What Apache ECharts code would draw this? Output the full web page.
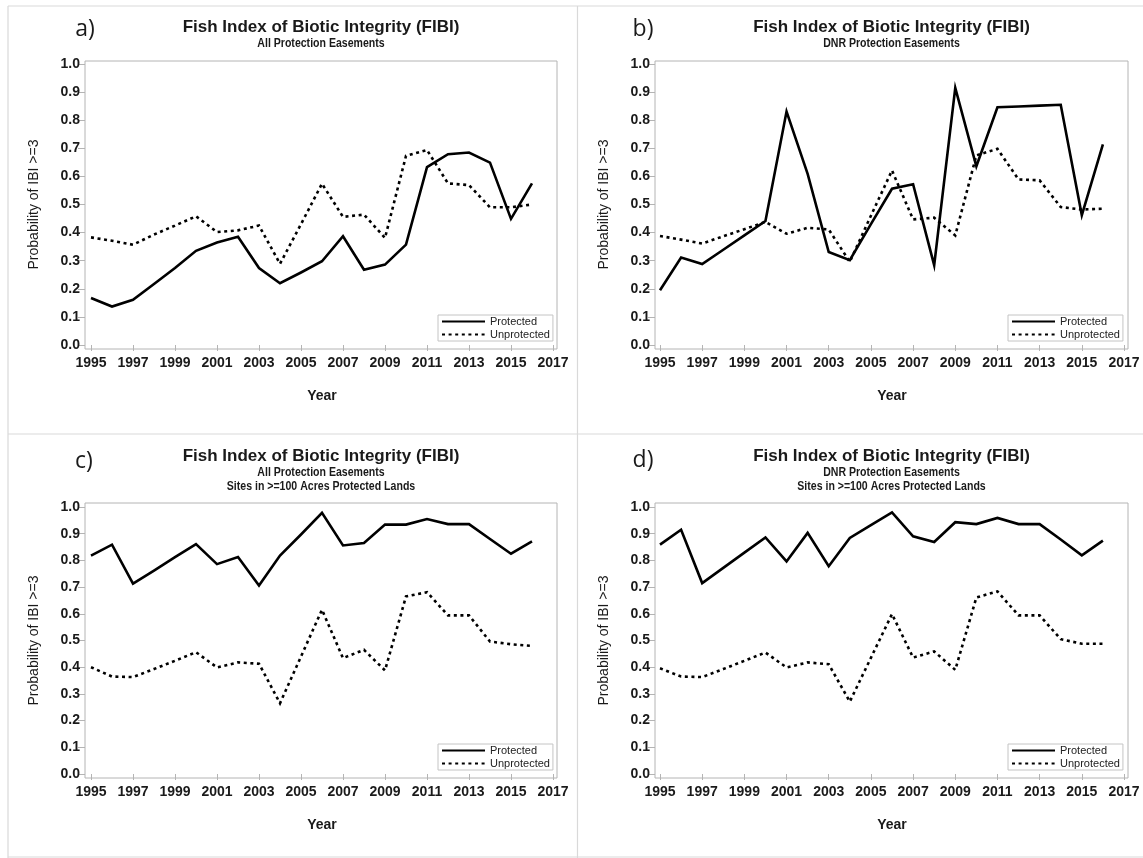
<!DOCTYPE html>
<html>
<head>
<meta charset="utf-8">
<title>Fish Index of Biotic Integrity (FIBI)</title>
<script src="https://cdn.jsdelivr.net/npm/echarts@6/dist/echarts.min.js"></script>
<style>
  html, body { margin: 0; padding: 0; background: #ffffff; }
  #chart { width: 1143px; height: 858px; }
</style>
</head>
<body>
<div id="chart"></div>
<script>
// Survey years
const years = [1995, 1996, 1997, 1998, 1999, 2000, 2001, 2002, 2003, 2004, 2005,
               2006, 2007, 2008, 2009, 2010, 2011, 2012, 2013, 2014, 2015, 2016];

// a) All protection easements
const allProtected   = [0.167, 0.137, 0.161, 0.217, 0.274, 0.335, 0.365, 0.385, 0.274, 0.220, 0.258,
                        0.298, 0.387, 0.268, 0.286, 0.357, 0.633, 0.679, 0.685, 0.649, 0.449, 0.575];
const allUnprotected = [0.383, 0.371, 0.357, 0.393, 0.425, 0.458, 0.402, 0.408, 0.425, 0.289, 0.430,
                        0.574, 0.456, 0.464, 0.381, 0.673, 0.694, 0.575, 0.569, 0.490, 0.490, 0.500];

// b) DNR protection easements
const dnrProtected   = [0.195, 0.311, 0.288, 0.339, 0.390, 0.441, 0.831, 0.609, 0.331, 0.302, 0.430,
                        0.556, 0.572, 0.284, 0.915, 0.636, 0.846, 0.849, 0.852, 0.855, 0.462, 0.714];
const dnrUnprotected = [0.388, 0.375, 0.361, 0.387, 0.412, 0.438, 0.396, 0.417, 0.411, 0.296, 0.460,
                        0.621, 0.447, 0.453, 0.390, 0.675, 0.698, 0.589, 0.586, 0.491, 0.482, 0.485];

// c) All protection easements, sites in >=100 acres protected lands
const all100Protected   = [0.818, 0.859, 0.713, 0.762, 0.812, 0.861, 0.786, 0.813, 0.706, 0.818, 0.897,
                           0.978, 0.856, 0.865, 0.934, 0.934, 0.955, 0.936, 0.936, 0.880, 0.825, 0.871];
const all100Unprotected = [0.400, 0.365, 0.363, 0.393, 0.424, 0.456, 0.399, 0.418, 0.413, 0.265, 0.440,
                           0.615, 0.434, 0.465, 0.388, 0.665, 0.681, 0.594, 0.594, 0.496, 0.486, 0.480];

// d) DNR protection easements, sites in >=100 acres protected lands
const dnr100Protected   = [0.859, 0.915, 0.715, 0.772, 0.829, 0.886, 0.796, 0.903, 0.778, 0.884, 0.932,
                           0.980, 0.890, 0.869, 0.943, 0.936, 0.959, 0.936, 0.936, 0.878, 0.819, 0.874];
const dnr100Unprotected = [0.396, 0.365, 0.363, 0.393, 0.424, 0.455, 0.399, 0.418, 0.411, 0.271, 0.435,
                           0.599, 0.436, 0.459, 0.390, 0.661, 0.684, 0.594, 0.594, 0.505, 0.488, 0.488];

// Axis settings
const yearMin = 1995, yearMax = 2017, yearStep = 2;
const probMin = 0, probMax = 1, probStep = 0.1;

const seriesNames = ['Protected', 'Unprotected'];
const mainTitle = 'Fish Index of Biotic Integrity (FIBI)';
const xAxisTitle = 'Year';
const yAxisTitle = 'Probability of IBI >=3';

const panelLabels = ['a)', 'b)', 'c)', 'd)'];
const panelSubtitles = [
  ['All Protection Easements'],
  ['DNR Protection Easements'],
  ['All Protection Easements', 'Sites in >=100 Acres Protected Lands'],
  ['DNR Protection Easements', 'Sites in >=100 Acres Protected Lands']
];
const panelSeries = [
  [allProtected, allUnprotected],
  [dnrProtected, dnrUnprotected],
  [all100Protected, all100Unprotected],
  [dnr100Protected, dnr100Unprotected]
];

// Page geometry for each panel (pixels)
const layout = [
  { dataLeft: 91,  dataW: 462, dataTop: 64,  dataH: 281, frameLeft: 85,  frameW: 472, frameTop: 61,  frameH: 288,
    titleY: 27, subY: [44], labelX: 85, labelY: 29, legendLeft: 438, legendTop: 315 },
  { dataLeft: 660, dataW: 464, dataTop: 64,  dataH: 281, frameLeft: 655, frameW: 473, frameTop: 61,  frameH: 288,
    titleY: 27, subY: [44], labelX: 643, labelY: 29, legendLeft: 1008, legendTop: 315 },
  { dataLeft: 91,  dataW: 462, dataTop: 507, dataH: 267, frameLeft: 85,  frameW: 472, frameTop: 503, frameH: 275,
    titleY: 456, subY: [473, 487], labelX: 84, labelY: 461, legendLeft: 438, legendTop: 744 },
  { dataLeft: 660, dataW: 464, dataTop: 507, dataH: 267, frameLeft: 655, frameW: 473, frameTop: 503, frameH: 275,
    titleY: 456, subY: [473, 487], labelX: 643, labelY: 460, legendLeft: 1008, legendTop: 744 }
];

const baseFont = "'Liberation Sans', Arial, Helvetica, sans-serif";
const ink = '#1a1a1a';
const frameGray = '#b4b4b4';
const dividerGray = '#d9d9d9';

const grids = [], xAxes = [], yAxes = [], series = [], legends = [], graphics = [];

layout.forEach((p) => {
  // plotting area: spans exactly 1995..2017 and 0..1
  grids.push({ left: p.dataLeft, top: p.dataTop, width: p.dataW, height: p.dataH, show: false, containLabel: false });
});
layout.forEach((p) => {
  // surrounding frame, slightly larger than the plotting area
  grids.push({ left: p.frameLeft, top: p.frameTop, width: p.frameW, height: p.frameH,
               show: true, borderColor: frameGray, borderWidth: 1, backgroundColor: 'transparent' });
});

layout.forEach((p, i) => {
  xAxes.push({
    gridIndex: i, type: 'value', min: yearMin, max: yearMax, interval: yearStep,
    position: 'bottom',
    offset: (p.frameTop + p.frameH) - (p.dataTop + p.dataH),
    name: xAxisTitle, nameLocation: 'middle', nameGap: 40,
    nameTextStyle: { fontFamily: baseFont, fontSize: 14, fontWeight: 'bold', color: ink },
    axisLine: { show: false },
    axisTick: { show: true, length: 6, inside: false, lineStyle: { color: frameGray, width: 1 } },
    axisLabel: { margin: 7, fontFamily: baseFont, fontSize: 14, fontWeight: 'bold', color: ink,
                 formatter: v => String(v) },
    splitLine: { show: false }
  });
  yAxes.push({
    gridIndex: i, type: 'value', min: probMin, max: probMax, interval: probStep,
    position: 'left',
    offset: p.dataLeft - p.frameLeft,
    name: yAxisTitle, nameLocation: 'middle', nameGap: 44,
    nameTextStyle: { fontFamily: baseFont, fontSize: 14, color: ink },
    axisLine: { show: false },
    axisTick: { show: true, length: 7, lineStyle: { color: frameGray, width: 1 } },
    axisLabel: { margin: 5, fontFamily: baseFont, fontSize: 14, fontWeight: 'bold', color: ink,
                 formatter: v => v.toFixed(1) },
    splitLine: { show: false }
  });
});
layout.forEach((p, i) => {
  xAxes.push({ gridIndex: 4 + i, type: 'value', show: false, min: 0, max: 1 });
  yAxes.push({ gridIndex: 4 + i, type: 'value', show: false, min: 0, max: 1 });
});

panelSeries.forEach((pair, i) => {
  pair.forEach((values, k) => {
    series.push({
      name: seriesNames[k],
      type: 'line',
      xAxisIndex: i, yAxisIndex: i,
      data: years.map((y, j) => [y, values[j]]),
      symbol: 'none',
      silent: true,
      animation: false,
      lineStyle: k === 0
        ? { color: '#000', width: 2.6, type: 'solid', join: 'miter' }
        : { color: '#000', width: 2.6, type: [3, 3.6], cap: 'butt', join: 'miter' },
      itemStyle: { color: '#000' }
    });
  });
});

layout.forEach((p) => {
  legends.push({
    orient: 'vertical', left: p.legendLeft, top: p.legendTop,
    padding: [1, 3, 1, 3], itemGap: 2, itemWidth: 43, itemHeight: 12,
    borderColor: '#c4c4c4', borderWidth: 1, backgroundColor: '#fff',
    selectedMode: false,
    data: seriesNames,
    // line samples only, no marker in the middle
    itemStyle: { color: 'transparent', borderWidth: 0, opacity: 0 },
    textStyle: { fontFamily: baseFont, fontSize: 11, color: '#222' }
  });
});

// Panel dividers and outer border
const centerX = 577.5, centerY = 434;
[
  [8, 6, 1143, 6], [8, 6, 8, 858], [centerX, 6, centerX, 858], [8, centerY, 1143, centerY], [8, 857, 1143, 857]
].forEach(([x1, y1, x2, y2]) => {
  graphics.push({ type: 'line', silent: true, z: -1,
    shape: { x1, y1, x2, y2 }, style: { stroke: dividerGray, lineWidth: 1.2 } });
});

// Titles, subtitles and panel letters
layout.forEach((p, i) => {
  const cx = p.frameLeft + p.frameW / 2;
  graphics.push({ type: 'text', x: cx, y: p.titleY, silent: true,
    style: { text: mainTitle, align: 'center', verticalAlign: 'middle',
             font: "bold 17px " + baseFont, fill: ink } });
  panelSubtitles[i].forEach((s, k) => {
    // condensed bold subtitle
    graphics.push({ type: 'text', x: cx, y: p.subY[k], scaleX: 0.88, silent: true,
      style: { text: s, align: 'center', verticalAlign: 'middle',
               font: "bold 12px " + baseFont, fill: ink } });
  });
  graphics.push({ type: 'text', x: p.labelX, y: p.labelY, silent: true,
    style: { text: panelLabels[i], align: 'center', verticalAlign: 'middle',
             font: "23px 'Open Sans', 'Liberation Sans', sans-serif", fill: ink } });
});

const chart = echarts.init(document.getElementById('chart'), null, { renderer: 'canvas' });
chart.setOption({
  backgroundColor: '#ffffff',
  animation: false,
  grid: grids,
  xAxis: xAxes,
  yAxis: yAxes,
  legend: legends,
  series: series,
  graphic: graphics
});
</script>
</body>
</html>
